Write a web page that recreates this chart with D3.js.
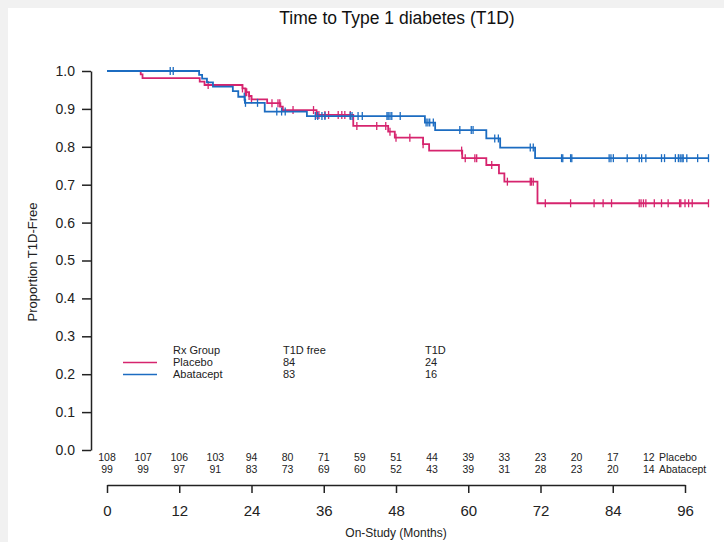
<!DOCTYPE html>
<html>
<head>
<meta charset="utf-8">
<script src="https://cdn.jsdelivr.net/npm/d3@7"></script>
<style>
  body { margin: 0; background: #f1f1f1; }
  svg { display: block; font-family: "Liberation Sans", Arial, sans-serif; }
</style>
</head>
<body>
<div id="viz"></div>
<script>
'use strict';

// Kaplan-Meier steps: time of event (months) and proportion after it
const placeboTimes = [0, 5.6, 5.9, 15.4, 16.2, 22.5, 23.0, 23.6, 24.0, 26.6, 28.8, 29.2,
  34.8, 40.9, 46.7, 47.8, 52.5, 53.5, 59.0, 63.0, 65.1, 66.0, 71.5];
const placeboSurv = [1.0, 0.991, 0.981, 0.972, 0.963, 0.954, 0.944, 0.934, 0.925, 0.915, 0.906, 0.897,
  0.884, 0.855, 0.840, 0.824, 0.807, 0.790, 0.770, 0.752, 0.730, 0.708, 0.651];
const placeboCensor = [16.8, 22.5, 23.0, 23.2, 23.6, 24.0, 27.4, 28.4, 28.7, 30.9, 34.3, 34.9, 35.2,
  36.2, 36.8, 38.4, 39.0, 39.5, 40.4, 41.5, 44.8, 46.3, 47.0, 48.0, 50.3, 52.5, 58.9, 59.5, 61.1,
  61.4, 63.9, 66.5, 70.3, 70.5, 70.8, 72.8, 77.0, 80.9, 82.4, 83.8, 88.4, 88.7, 89.1, 89.5, 90.9,
  92.1, 93.2, 95.1, 95.3, 96.0, 96.6, 97.2, 99.9];

const abataTimes = [0, 15.3, 15.8, 16.6, 17.6, 20.9, 21.8, 22.9, 26.2, 33.2, 52.8, 54.5, 63.0, 65.3, 71.1];
const abataSurv = [1.0, 0.990, 0.980, 0.970, 0.959, 0.947, 0.932, 0.916, 0.893, 0.881, 0.864, 0.844,
  0.822, 0.798, 0.770];
const abataCensor = [10.5, 11.0, 22.8, 23.0, 25.0, 28.2, 29.0, 29.6, 34.6, 35.0, 35.7, 36.2, 40.4,
  40.7, 41.7, 42.4, 46.5, 46.7, 47.0, 47.3, 48.7, 53.0, 53.3, 53.6, 54.2, 58.6, 60.5, 60.8, 64.4,
  65.0, 70.3, 70.8, 75.5, 75.7, 77.0, 77.2, 83.4, 83.7, 84.1, 86.4, 88.4, 88.8, 89.5, 92.1, 92.6,
  94.4, 94.9, 95.2, 95.5, 95.7, 96.3, 98.1, 99.9];

const lastTime = 99.9;

// number at risk
const riskTimes = [0, 6, 12, 18, 24, 30, 36, 42, 48, 54, 60, 66, 72, 78, 84, 90];
const riskPlacebo = [108, 107, 106, 103, 94, 80, 71, 59, 51, 44, 39, 33, 23, 20, 17, 12];
const riskAbata = [99, 99, 97, 91, 83, 73, 69, 60, 52, 43, 39, 31, 28, 23, 20, 14];

const xTicks = [0, 12, 24, 36, 48, 60, 72, 84, 96];
const yTicks = [0, 0.1, 0.2, 0.3, 0.4, 0.5, 0.6, 0.7, 0.8, 0.9, 1.0];

const groups = ['Placebo', 'Abatacept'];
const freeCounts = [84, 83];
const eventCounts = [24, 16];
const colors = ['#d6246e', '#1c6cc1'];

const W = 724, H = 542;

const svg = d3.select('#viz')
  .append('svg')
    .attr('width', W)
    .attr('height', H);

svg.append('rect')
  .attr('x', 8).attr('y', 8)
  .attr('width', W - 8).attr('height', H - 8)
  .attr('fill', '#fff');

const x = d3.scaleLinear().domain([0, 96]).range([107, 685]);
const y = d3.scaleLinear().domain([0, 1]).range([450, 71]);

// title
svg.append('text')
  .attr('x', 397).attr('y', 24)
  .attr('text-anchor', 'middle')
  .attr('font-size', 17.5)
  .attr('fill', '#111')
  .text('Time to Type 1 diabetes (T1D)');

// Y axis
const yAxis = svg.append('g')
  .attr('transform', 'translate(91,0)')
  .call(d3.axisLeft(y).tickValues(yTicks).tickFormat(d3.format('.1f')).tickSize(9).tickSizeOuter(0));
yAxis.select('.domain').attr('stroke', '#222').attr('stroke-width', 1.5);
yAxis.selectAll('.tick line').attr('stroke', '#222').attr('stroke-width', 1.5);
yAxis.selectAll('.tick text')
  .attr('font-size', 14)
  .attr('font-family', '"Liberation Sans", Arial, sans-serif')
  .attr('fill', '#222')
  .attr('x', -16);

svg.append('text')
  .attr('transform', 'translate(37,262) rotate(-90)')
  .attr('text-anchor', 'middle')
  .attr('font-size', 13)
  .attr('fill', '#222')
  .text('Proportion T1D-Free');

// X axis (below the risk table)
const xAxis = svg.append('g')
  .attr('transform', 'translate(0,485)')
  .call(d3.axisBottom(x).tickValues(xTicks).tickSize(8).tickSizeOuter(0).tickPadding(12));
xAxis.select('.domain').attr('stroke', '#222').attr('stroke-width', 1.5);
xAxis.selectAll('.tick line').attr('stroke', '#222').attr('stroke-width', 1.5);
xAxis.selectAll('.tick text')
  .attr('font-size', 15)
  .attr('font-family', '"Liberation Sans", Arial, sans-serif')
  .attr('fill', '#222');

svg.append('text')
  .attr('x', 396).attr('y', 537)
  .attr('text-anchor', 'middle')
  .attr('font-size', 12)
  .attr('fill', '#222')
  .text('On-Study (Months)');

// risk table
[riskPlacebo, riskAbata].forEach((row, r) => {
  svg.append('g')
    .selectAll('text')
    .data(row)
    .join('text')
      .attr('x', (d, i) => x(riskTimes[i]))
      .attr('y', 461 + r * 12)
      .attr('text-anchor', 'middle')
      .attr('font-size', 10.5)
      .attr('fill', '#222')
      .text(d => d);

  svg.append('text')
    .attr('x', 659)
    .attr('y', 461 + r * 12)
    .attr('font-size', 10.5)
    .attr('fill', '#222')
    .text(groups[r]);
});

// curves
function survAt(times, surv, t) {
  const i = d3.bisectRight(times, t) - 1;
  return surv[Math.max(0, i)];
}

const line = d3.line()
  .x(d => x(d[0]))
  .y(d => y(d[1]))
  .curve(d3.curveStepAfter);

const curves = [
  {times: placeboTimes, surv: placeboSurv, censor: placeboCensor},
  {times: abataTimes, surv: abataSurv, censor: abataCensor}
];

curves.forEach((c, k) => {
  const pts = c.times.map((t, i) => [t, c.surv[i]]);
  pts.push([lastTime, c.surv[c.surv.length - 1]]);

  svg.append('path')
    .datum(pts)
    .attr('fill', 'none')
    .attr('stroke', colors[k])
    .attr('stroke-width', 1.8)
    .attr('d', line);

  svg.append('g')
    .selectAll('line')
    .data(c.censor)
    .join('line')
      .attr('x1', d => x(d))
      .attr('x2', d => x(d))
      .attr('y1', d => y(survAt(c.times, c.surv, d)) - 4)
      .attr('y2', d => y(survAt(c.times, c.surv, d)) + 4)
      .attr('stroke', colors[k])
      .attr('stroke-width', 1.3);
});

// legend
const legend = svg.append('g').attr('font-size', 11).attr('fill', '#222');
legend.append('text').attr('x', 173).attr('y', 354).text('Rx Group');
legend.append('text').attr('x', 283).attr('y', 354).text('T1D free');
legend.append('text').attr('x', 425).attr('y', 354).text('T1D');

groups.forEach((g, i) => {
  const yy = 366 + i * 12;
  legend.append('line')
    .attr('x1', 123).attr('x2', 157)
    .attr('y1', yy - 3.5).attr('y2', yy - 3.5)
    .attr('stroke', colors[i])
    .attr('stroke-width', 1.5);
  legend.append('text').attr('x', 173).attr('y', yy).text(g);
  legend.append('text').attr('x', 283).attr('y', yy).text(freeCounts[i]);
  legend.append('text').attr('x', 425).attr('y', yy).text(eventCounts[i]);
});
</script>
</body>
</html>
